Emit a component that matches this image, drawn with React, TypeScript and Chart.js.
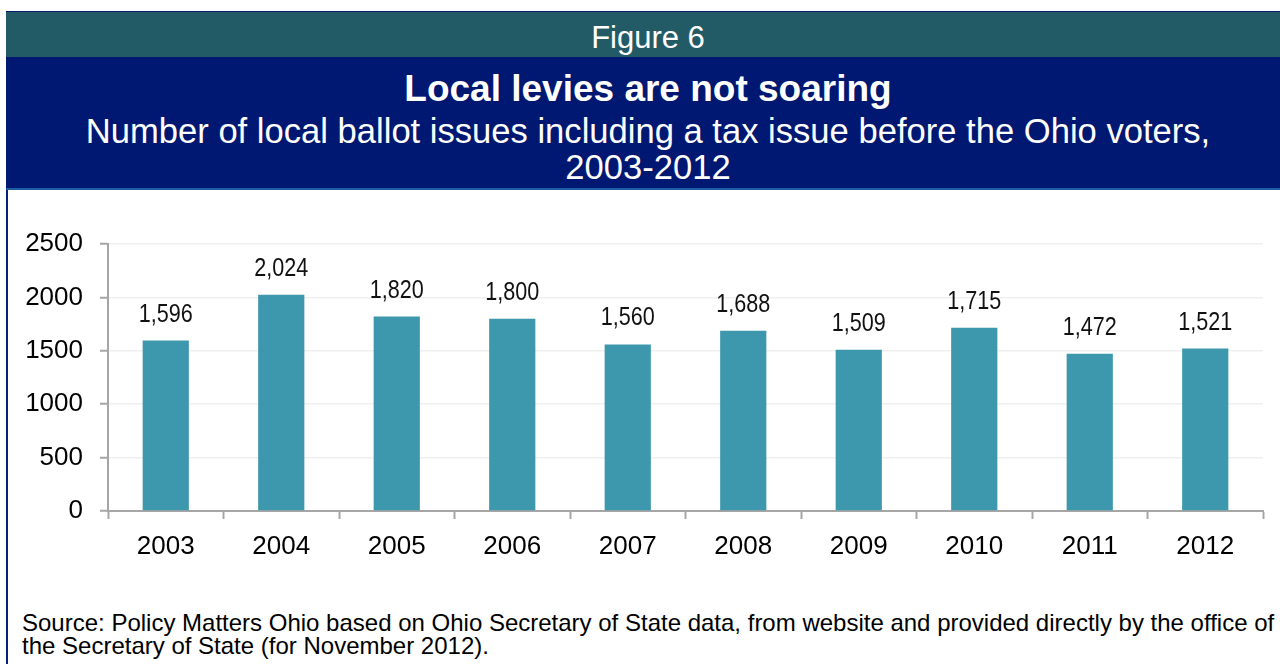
import React, { useEffect, useRef } from "react";
import { Chart, registerables } from "chart.js";

Chart.register(...registerables);

const years = ["2003", "2004", "2005", "2006", "2007", "2008", "2009", "2010", "2011", "2012"];
const ballotIssues = [1596, 2024, 1820, 1800, 1560, 1688, 1509, 1715, 1472, 1521];
const yTicks = [0, 500, 1000, 1500, 2000, 2500];

const FONT = '"Liberation Sans", Arial, Helvetica, sans-serif';

const valueLabels = {
  id: "valueLabels",
  afterDatasetsDraw(chart: any) {
    const ctx = chart.ctx;
    const meta = chart.getDatasetMeta(0);
    ctx.save();
    ctx.font = `26px ${FONT}`;
    ctx.fillStyle = "#111111";
    ctx.textAlign = "center";
    ctx.textBaseline = "alphabetic";
    meta.data.forEach((bar: any, i: number) => {
      const v = chart.data.datasets[0].data[i] as number;
      const txt = v.toLocaleString("en-US");
      ctx.save();
      ctx.translate(bar.x, bar.y - 19);
      ctx.scale(0.83, 1);
      ctx.fillText(txt, 0, 0);
      ctx.restore();
    });
    ctx.restore();
  },
};

export default function App() {
  const ref = useRef<HTMLCanvasElement | null>(null);

  useEffect(() => {
    if (!ref.current) return;
    const chart = new Chart(ref.current, {
      type: "bar",
      data: {
        labels: years,
        datasets: [
          {
            data: ballotIssues,
            backgroundColor: "#3d98ad",
            borderWidth: 0,
            barPercentage: 0.4,
            categoryPercentage: 1,
          },
        ],
      },
      options: {
        animation: false,
        responsive: false,
        maintainAspectRatio: false,
        layout: { padding: { top: 54, right: 17, bottom: 0, left: 0 } },
        plugins: {
          legend: { display: false },
          tooltip: { enabled: false },
          title: { display: false },
        },
        scales: {
          x: {
            afterFit: (s: any) => {
              s.height = 59;
            },
            border: { color: "#a6a6a6", width: 2 },
            grid: {
              display: true,
              drawOnChartArea: false,
              drawTicks: true,
              tickLength: 8,
              tickColor: "#a6a6a6",
              tickWidth: 2,
              offset: true,
            },
            ticks: {
              color: "#000000",
              font: { family: FONT, size: 26 },
              padding: 12,
              maxRotation: 0,
            },
          },
          y: {
            min: 0,
            max: 2500,
            afterFit: (s: any) => {
              s.width = 108;
            },
            afterBuildTicks: (s: any) => {
              s.ticks = yTicks.map((v) => ({ value: v }));
            },
            border: { color: "#a6a6a6", width: 2 },
            grid: {
              color: "#efefef",
              lineWidth: 1.5,
              tickLength: 8,
              tickColor: "#a6a6a6",
              tickWidth: 2,
            },
            ticks: {
              color: "#000000",
              font: { family: FONT, size: 26 },
              padding: 17,
              callback: (v: any) => String(v),
            },
          },
        },
      },
      plugins: [valueLabels],
    });
    return () => chart.destroy();
  }, []);

  const white = "#ffffff";
  return (
    <div
      style={{
        position: "fixed",
        left: 0,
        top: 0,
        width: 1280,
        height: 664,
        overflow: "hidden",
        background: "#ffffff",
        fontFamily: FONT,
      }}
    >
      {/* left border */}
      <div style={{ position: "absolute", left: 6, top: 11, width: 2, height: 653, background: "#0a1f7a" }} />
      {/* teal band */}
      <div style={{ position: "absolute", left: 6, top: 11, width: 1290, height: 46, background: "#225b66", borderTop: "1px solid #0a1f6a", boxSizing: "border-box" }} />
      {/* navy band */}
      <div style={{ position: "absolute", left: 6, top: 57, width: 1290, height: 131, background: "#001871" }} />
      <div style={{ position: "absolute", left: 6, top: 188, width: 1290, height: 2, background: "#1b5ea6" }} />
      <div style={{ position: "absolute", left: 7, top: 23, width: 1282, textAlign: "center", color: white, fontSize: 31, lineHeight: "30px" }}>
        Figure 6
      </div>
      <div style={{ position: "absolute", left: 7, top: 70, width: 1282, textAlign: "center", color: white, fontSize: 37, lineHeight: "37px", fontWeight: "bold" }}>
        Local levies are not soaring
      </div>
      <div style={{ position: "absolute", left: 7, top: 113, width: 1282, textAlign: "center", color: white, fontSize: 34.6, lineHeight: "36px" }}>
        Number of local ballot issues including a tax issue before the Ohio voters,
        <br />
        2003-2012
      </div>
      <canvas
        ref={ref}
        width={1280}
        height={380}
        style={{ position: "absolute", left: 0, top: 190, width: 1280, height: 380 }}
      />
      <div style={{ position: "absolute", left: 22, top: 611, width: 1258, color: "#000000", fontSize: 24, lineHeight: "23px", whiteSpace: "nowrap" }}>
        Source: Policy Matters Ohio based on Ohio Secretary of State data, from website and provided directly by the office of
        <br />
        the Secretary of State (for November 2012).
      </div>
    </div>
  );
}
